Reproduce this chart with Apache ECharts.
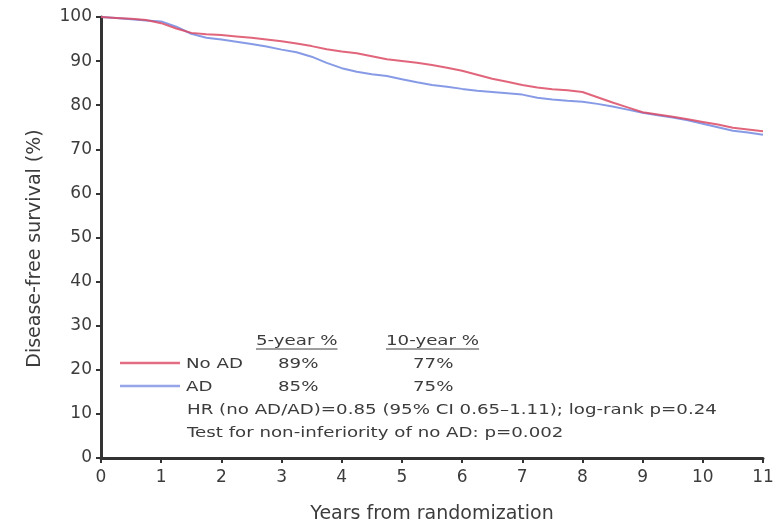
<!DOCTYPE html>
<html>
<head>
<meta charset="utf-8">
<script src="https://cdn.jsdelivr.net/npm/echarts@6/dist/echarts.min.js"></script>
<style>
  html, body { margin: 0; padding: 0; background: #fff; }
  #chart { width: 777px; height: 529px; }
</style>
</head>
<body>
<div id="chart"></div>
<script>
// Kaplan-Meier disease-free survival, read at quarter-year steps
const years = [0, 0.25, 0.5, 0.75, 1, 1.25, 1.5, 1.75, 2, 2.25, 2.5, 2.75, 3, 3.25, 3.5, 3.75,
  4, 4.25, 4.5, 4.75, 5, 5.25, 5.5, 5.75, 6, 6.25, 6.5, 6.75, 7, 7.25, 7.5, 7.75,
  8, 8.25, 8.5, 8.75, 9, 9.25, 9.5, 9.75, 10, 10.25, 10.5, 10.75, 11];
const noAdSurvival = [100, 99.8, 99.6, 99.3, 98.6, 97.4, 96.4, 96.1, 95.9, 95.6, 95.3, 94.9, 94.5, 94.0, 93.4, 92.7,
  92.2, 91.8, 91.1, 90.4, 90.0, 89.6, 89.1, 88.5, 87.8, 86.9, 86.0, 85.3, 84.6, 84.0, 83.6, 83.4,
  83.0, 81.8, 80.6, 79.5, 78.4, 77.9, 77.4, 76.8, 76.2, 75.6, 74.9, 74.5, 74.1];
const adSurvival = [100, 99.8, 99.5, 99.2, 99.0, 97.8, 96.2, 95.3, 94.9, 94.4, 93.9, 93.3, 92.6, 92.0, 91.0, 89.6,
  88.4, 87.6, 87.0, 86.6, 85.9, 85.2, 84.6, 84.2, 83.7, 83.3, 83.0, 82.7, 82.4, 81.7, 81.3, 81.0,
  80.8, 80.3, 79.7, 79.0, 78.3, 77.7, 77.2, 76.6, 75.8, 75.0, 74.2, 73.8, 73.3];

const seriesNames = ['No AD', 'AD'];
const seriesColors = ['#dc4a64', '#7a8fe2'];
const fiveYearPct = ['89%', '85%'];
const tenYearPct = ['77%', '75%'];
const tableHeaders = ['5-year %', '10-year %'];
const statLines = [
  'HR (no AD/AD)=0.85 (95% CI 0.65\u20131.11); log-rank p=0.24',
  'Test for non-inferiority of no AD: p=0.002'
];
const xTicks = { min: 0, max: 11, interval: 1 };
const yTicks = { min: 0, max: 100, interval: 10 };

const FONT = '"DejaVu Sans", "Liberation Sans", Arial, sans-serif';
const TEXT = '#3c3c3c';
const AXIS = '#333333';
const WIDE = 1.3;      // horizontal stretch of annotation text
const NOTE_SIZE = 14;

const chart = echarts.init(document.getElementById('chart'), null, { renderer: 'canvas' });

const measure = (() => {
  const ctx = document.createElement('canvas').getContext('2d');
  return (t) => { ctx.font = NOTE_SIZE + 'px ' + FONT; return ctx.measureText(t).width * WIDE; };
})();

function note(text, x, y) {
  return {
    type: 'text', x: x, y: y, scaleX: WIDE, silent: true,
    style: { text: text, fontFamily: FONT, fontSize: NOTE_SIZE, fill: TEXT,
             align: 'left', verticalAlign: 'middle' }
  };
}

const rowY = [364, 387];
const graphics = [];
// header row with underlines
const headerX = [256, 386];
tableHeaders.forEach((h, i) => {
  graphics.push(note(h, headerX[i], 341));
  graphics.push({ type: 'line', silent: true,
    shape: { x1: headerX[i], y1: 349, x2: headerX[i] + measure(h), y2: 349 },
    style: { stroke: TEXT, lineWidth: 1 } });
});
// legend rows
seriesNames.forEach((name, i) => {
  graphics.push({ type: 'line', silent: true,
    shape: { x1: 120, y1: rowY[i] - 1, x2: 180, y2: rowY[i] - 1 },
    style: { stroke: seriesColors[i], lineWidth: 2.5, opacity: 0.8 } });
  graphics.push(note(name, 186, rowY[i]));
  graphics.push(note(fiveYearPct[i], 278, rowY[i]));
  graphics.push(note(tenYearPct[i], 413, rowY[i]));
});
statLines.forEach((s, i) => graphics.push(note(s, 187, 410 + i * 23)));

const option = {
  animation: false,
  backgroundColor: '#ffffff',
  grid: { left: 101, right: 14, top: 17, bottom: 69 },
  xAxis: {
    type: 'value', min: xTicks.min, max: xTicks.max, interval: xTicks.interval,
    name: 'Years from randomization', nameLocation: 'middle', nameGap: 47,
    nameTextStyle: { fontFamily: FONT, fontSize: 19, color: TEXT },
    axisLine: { show: true, lineStyle: { color: AXIS, width: 3 } },
    axisTick: { show: true, length: 5, lineStyle: { color: AXIS, width: 2 } },
    axisLabel: { margin: 11, fontFamily: FONT, fontSize: 17, color: TEXT },
    splitLine: { show: false }
  },
  yAxis: {
    type: 'value', min: yTicks.min, max: yTicks.max, interval: yTicks.interval,
    name: 'Disease-free survival (%)', nameLocation: 'middle', nameGap: 56,
    nameTextStyle: { fontFamily: FONT, fontSize: 19, color: TEXT, padding: [0, 22, 0, 0] },
    axisLine: { show: true, lineStyle: { color: AXIS, width: 3 } },
    axisTick: { show: true, length: 5, lineStyle: { color: AXIS, width: 2 } },
    axisLabel: { margin: 9, fontFamily: FONT, fontSize: 17, color: TEXT },
    splitLine: { show: false }
  },
  series: [
    {
      name: seriesNames[1], type: 'line', showSymbol: false, silent: true,
      data: years.map((x, i) => [x, adSurvival[i]]),
      lineStyle: { color: seriesColors[1], width: 2, opacity: 0.9 }
    },
    {
      name: seriesNames[0], type: 'line', showSymbol: false, silent: true,
      data: years.map((x, i) => [x, noAdSurvival[i]]),
      lineStyle: { color: seriesColors[0], width: 2, opacity: 0.85 }
    }
  ],
  graphic: graphics
};

chart.setOption(option);
</script>
</body>
</html>
